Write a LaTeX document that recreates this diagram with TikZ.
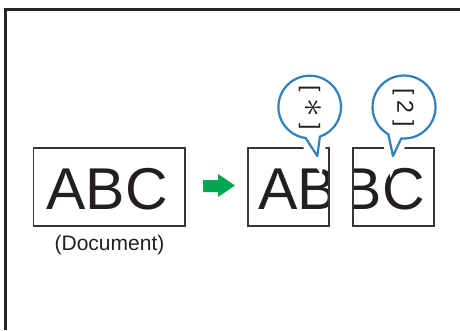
\documentclass[tikz,border=0pt]{standalone}
\usepackage{fontspec}
\setmainfont{Liberation Sans}
\definecolor{inkblack}{HTML}{231F20}
\definecolor{callblue}{HTML}{2E80BE}
\definecolor{arrowgreen}{HTML}{00A651}

\begin{document}
\begin{tikzpicture}[x=1pt,y=1pt,
  page/.style={draw=inkblack!90,line width=1.2pt},
  big/.style={inner sep=0pt,text=inkblack,font=\fontsize{59}{59}\selectfont},
  tag/.style={inner sep=0pt,rotate=-90,text=inkblack,font=\fontsize{23}{23}\selectfont},
  callout/.style={draw=callblue,line width=2.2pt,fill=white,line join=round,
    preaction={draw=white,line width=14pt}}]
  \useasboundingbox (0,0) rectangle (460,330);

  % outer frame (cut by the page edges)
  \draw[black!85,line width=2.4pt] (5.3,0) -- (5.3,320.5) -- (470,320.5);

  % original document
  \draw[page] (33.5,104) rectangle (185,182);
  \node[big,anchor=base] (abc) at (107,121) {ABC};
  \node[anchor=base,inner sep=0pt,text=inkblack,font=\fontsize{21}{21}\selectfont]
    (doc) at (109.5,80) {(Document)};

  % green arrow
  \fill[arrowgreen] (203,150) -- (218,150) -- (218,156) -- (235,144.5)
    -- (218,133) -- (218,138) -- (203,138) -- cycle;

  % first page (left part)
  \begin{scope}
    \clip (248,104) rectangle (329,182);
    \node[big,anchor=base west] (pgone) at (258,121) {ABC};
  \end{scope}
  \draw[page] (248,104) rectangle (329,182);

  % second page (right part)
  \begin{scope}
    \clip (353,104) rectangle (434,182);
    \node[big,anchor=base east] (pgtwo) at (425,121) {ABC};
  \end{scope}
  \draw[page] (353,104) rectangle (434,182);

  % callouts
  \draw[callout] (309.7,223) ++(-71:31.3)
    arc[start angle=-71,end angle=262.5,radius=31.3] -- (317.3,174) -- cycle;
  \node[tag] (star) at (310,222.5) {[ \scalebox{1.5}{$\ast$} ]};

  \draw[callout] (404,223) ++(-95:31.5)
    arc[start angle=-95,end angle=240.2,radius=31.5] -- (393,174) -- cycle;
  \node[tag] (two) at (403.3,222.7) {[ 2 ]};
\end{tikzpicture}
\end{document}
